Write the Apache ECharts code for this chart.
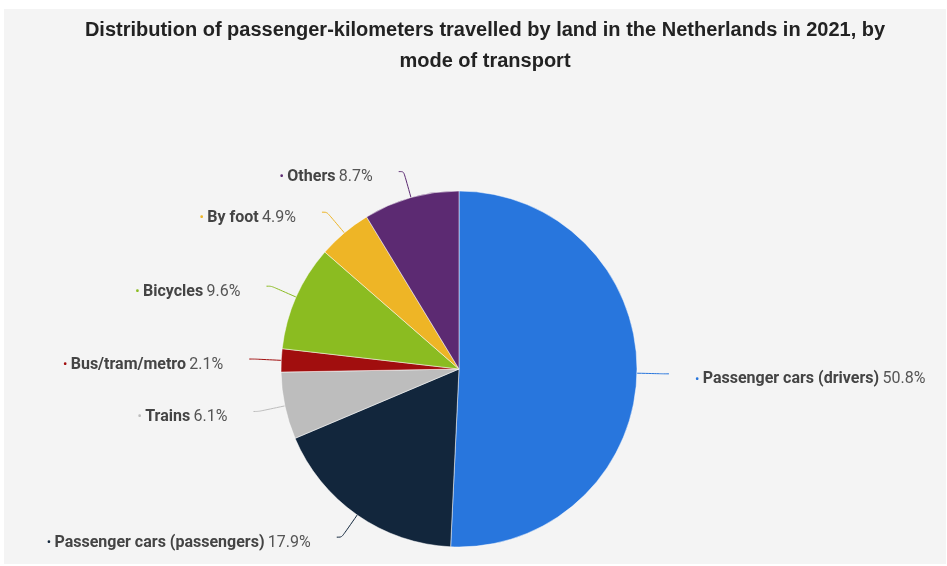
<!DOCTYPE html>
<html>
<head>
<meta charset="utf-8">
<script src="https://cdn.jsdelivr.net/npm/echarts@6/dist/echarts.min.js"></script>
<style>
  html, body { margin: 0; padding: 0; background: #ffffff; }
  #chart { width: 947px; height: 566px; }
</style>
</head>
<body>
<div id="chart"></div>
<script>
const titleText = 'Distribution of passenger-kilometers travelled by land in the Netherlands in 2021, by\nmode of transport';
const categories = ['Passenger cars (drivers)', 'Passenger cars (passengers)', 'Trains', 'Bus/tram/metro', 'Bicycles', 'By foot', 'Others'];
const shares = [50.8, 17.9, 6.1, 2.1, 9.6, 4.9, 8.7];
const sliceColors = ['#2876dd', '#12263c', '#bdbdbd', '#a10e0e', '#8bbc21', '#eeb526', '#5c2a72'];

const rich = {
  n: { fontFamily: 'Roboto', fontSize: 16, fontWeight: 'bold', color: '#444' },
  v: { fontFamily: 'Roboto', fontSize: 16, color: '#555' }
};
sliceColors.forEach((c, i) => {
  rich['d' + i] = { fontFamily: 'Roboto', fontSize: 13, color: c };
});

const chart = echarts.init(document.getElementById('chart'), null, { renderer: 'canvas' });
chart.setOption({
  backgroundColor: '#ffffff',
  animation: false,
  graphic: [{
    type: 'rect',
    z: -10,
    shape: { x: 4, y: 9, width: 942, height: 555 },
    style: { fill: '#f4f4f4' },
    silent: true
  }],
  title: {
    text: titleText,
    left: 485,
    top: 15,
    textAlign: 'center',
    padding: 0,
    textStyle: {
      fontFamily: 'Liberation Sans',
      fontSize: 20,
      fontWeight: 'bold',
      color: '#222',
      lineHeight: 31
    }
  },
  series: [{
    type: 'pie',
    center: [459, 369],
    radius: 178,
    startAngle: 90,
    clockwise: true,
    avoidLabelOverlap: false,
    itemStyle: { borderColor: '#ffffff', borderWidth: 0.5 },
    label: {
      show: true,
      position: 'outside',
      distanceToLabelLine: 26,
      padding: [11, 0, 0, 0],
      formatter: p => `{d${p.dataIndex}|•} {n|${p.name}} {v|${p.value}%}`,
      rich: rich
    },
    labelLine: {
      show: true,
      length: 27,
      length2: 5,
      smooth: 0.3,
      lineStyle: { width: 1 }
    },
    emphasis: { disabled: true },
    data: categories.map((name, i) => ({
      name: name,
      value: shares[i],
      itemStyle: { color: sliceColors[i] }
    }))
  }]
});
</script>
</body>
</html>
